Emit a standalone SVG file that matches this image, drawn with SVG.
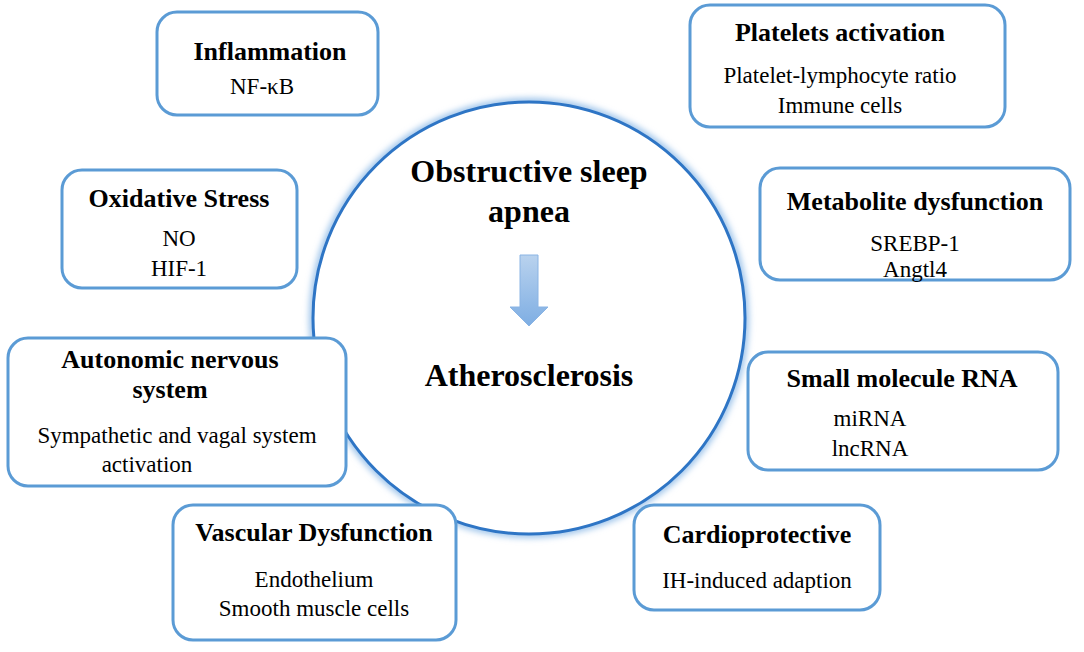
<svg xmlns="http://www.w3.org/2000/svg" width="1084" height="652" viewBox="0 0 1084 652">
<defs>
<style>
.box{fill:#fff;stroke:#5b9bd5;stroke-width:3}
.t{font-family:"Liberation Serif",serif;font-size:26px;font-weight:bold;fill:#000;text-anchor:middle}
.s{font-family:"Liberation Serif",serif;font-size:23px;fill:#000;text-anchor:middle}
.c{font-family:"Liberation Serif",serif;font-size:32px;font-weight:bold;fill:#000;text-anchor:middle}
</style>
<linearGradient id="ag" x1="0" y1="0" x2="0" y2="1"><stop offset="0" stop-color="#b9d2ee"/><stop offset="1" stop-color="#7eaee3"/></linearGradient>
<filter id="glow" x="-10%" y="-10%" width="120%" height="120%"><feGaussianBlur stdDeviation="3"/></filter>
</defs>
<rect width="1084" height="652" fill="#fff"/>
<g id="center">
<circle cx="529" cy="318" r="216" fill="none" stroke="#9cc3ea" stroke-width="8" filter="url(#glow)"/>
<circle cx="529" cy="318" r="216" fill="#fff" stroke="#2e75c5" stroke-width="3"/>
<text class="c" x="529" y="182">Obstructive sleep</text>
<text class="c" x="529" y="222">apnea</text>
<text class="c" x="529" y="386">Atherosclerosis</text>
</g>
<g id="connectors">
<path d="M520,255 H538 V307 H548 L529,326 L510,307 H520 Z" fill="url(#ag)" stroke="#8ab4e4" stroke-width="1"/>
</g>
<g id="inflammation"><rect class="box" x="157" y="12" width="221" height="103" rx="20"/><text class="t" x="270" y="60">Inflammation</text><text class="s" x="262" y="94">NF-κB</text></g>
<g id="platelets"><rect class="box" x="690" y="5" width="315" height="122" rx="20"/><text class="t" x="840" y="41">Platelets activation</text><text class="s" x="840" y="83">Platelet-lymphocyte ratio</text><text class="s" x="840" y="113">Immune cells</text></g>
<g id="oxidative"><rect class="box" x="62" y="170" width="235" height="118" rx="20"/><text class="t" x="179" y="207">Oxidative Stress</text><text class="s" x="179" y="246">NO</text><text class="s" x="179" y="276">HIF-1</text></g>
<g id="metabolite"><rect class="box" x="760" y="168" width="310" height="112" rx="20"/><text class="t" x="915" y="210">Metabolite dysfunction</text><text class="s" x="915" y="251">SREBP-1</text><text class="s" x="915" y="277">Angtl4</text></g>
<g id="autonomic"><rect class="box" x="8" y="338" width="338" height="148" rx="20"/><text class="t" x="170" y="368">Autonomic nervous</text><text class="t" x="170" y="398">system</text><text class="s" x="177" y="443">Sympathetic and vagal system</text><text class="s" x="147" y="472">activation</text></g>
<g id="smallrna"><rect class="box" x="748" y="352" width="310" height="118" rx="20"/><text class="t" x="902" y="387">Small molecule RNA</text><text class="s" x="870" y="426">miRNA</text><text class="s" x="870" y="456">lncRNA</text></g>
<g id="vascular"><rect class="box" x="173" y="505" width="283" height="135" rx="20"/><text class="t" x="314" y="541">Vascular Dysfunction</text><text class="s" x="314" y="587">Endothelium</text><text class="s" x="314" y="616">Smooth muscle cells</text></g>
<g id="cardio"><rect class="box" x="634" y="505" width="246" height="105" rx="20"/><text class="t" x="757" y="543">Cardioprotective</text><text class="s" x="757" y="588">IH-induced adaption</text></g>
</svg>
